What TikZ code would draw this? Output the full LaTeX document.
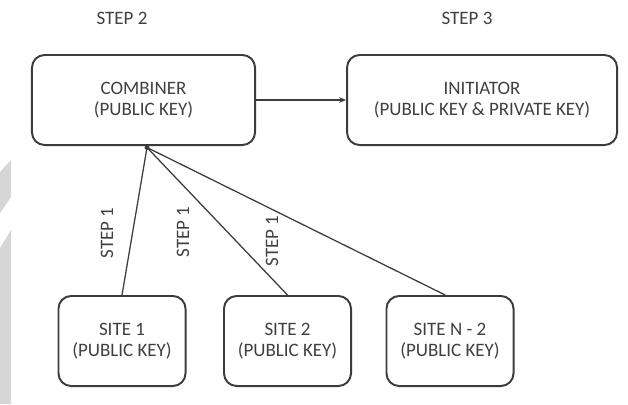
\documentclass[tikz,border=0pt]{standalone}
\usepackage{fontspec}
\setmainfont{Carlito}
\usetikzlibrary{arrows.meta,positioning}
\definecolor{KeyLine}{HTML}{3C3C3C}
\definecolor{KeyText}{HTML}{404040}
\definecolor{KeyStrip}{HTML}{D6D6D6}

\begin{document}
\begin{tikzpicture}[x=0.025cm,y=-0.025cm,
  font=\fontsize{13.5pt}{15pt}\selectfont,
  party/.style={draw=KeyLine,line width=1.4pt,rounded corners=9pt,align=center,text=KeyText,minimum height=2.25cm},
  site/.style={party,minimum width=3.175cm},
  steplabel/.style={text=KeyText,inner sep=0pt},
  link/.style={draw=KeyLine,line width=0.9pt}]
  \useasboundingbox (0,0) rectangle (628,404);
  % grey strip on the left edge
  \fill[KeyStrip] (0,172) -- (11,160) -- (11,197) -- (0,213) -- cycle;
  \fill[KeyStrip] (0,248) -- (11,230) -- (11,404) -- (0,404) -- cycle;
  \node[party,minimum width=5.575cm] (comb) at (143.5,100) {COMBINER\\(PUBLIC KEY)};
  \node[party,minimum width=6.75cm,right=2.25cm of comb] (init) {INITIATOR\\(PUBLIC KEY \& PRIVATE KEY)};
  \node[steplabel] (s2) at (122,18) {STEP 2};
  \node[steplabel] (s3) at (467,18) {STEP 3};
  \node[site] (site1) at (122,341) {SITE 1\\(PUBLIC KEY)};
  \node[site] (site2) at (287.5,341) {SITE 2\\(PUBLIC KEY)};
  \node[site] (siten) at (450,341) {SITE N - 2\\(PUBLIC KEY)};
  \node[circle,fill=KeyLine,inner sep=0pt,minimum size=3.5pt] (join) at (147,147.5) {};
  \draw[link,-{Stealth[length=5pt,width=4pt]}] (comb) -- (init);
  \draw[link] (site1.north) -- (join.center);
  \draw[link] (site2.north) -- (join.center);
  \draw[link] ([xshift=-0.12cm]siten.north) -- (join.center);
  \node[steplabel,rotate=90] (l1) at (107,233) {STEP 1};
  \node[steplabel,rotate=90] (l2) at (183,232) {STEP 1};
  \node[steplabel,rotate=90] (l3) at (272,241) {STEP 1};
\end{tikzpicture}
\end{document}
